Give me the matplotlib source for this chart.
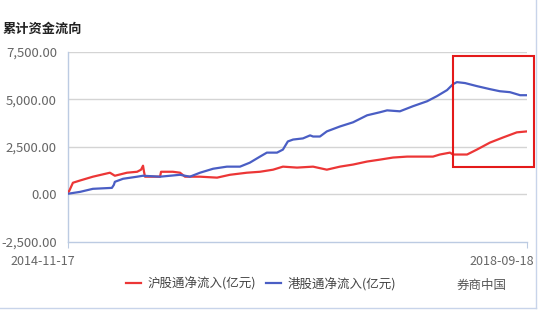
import matplotlib
matplotlib.use("Agg")
import matplotlib.pyplot as plt
import matplotlib.transforms as mtransforms
from matplotlib.lines import Line2D
from matplotlib.patches import Rectangle
import pandas as pd

plt.rcParams['font.family'] = ['Noto Sans CJK SC', 'DejaVu Sans']

start_date = "2014-11-17"
end_date = "2018-09-18"
title = "累计资金流向"
sh_label = "沪股通净流入(亿元)"
hk_label = "港股通净流入(亿元)"
yticks = [-2500, 0, 2500, 5000, 7500]

# days since start, cumulative net inflow (亿元)
sh_days = [0, 3, 15, 37, 76, 128, 143, 180, 211, 223, 229, 232, 235, 281, 284, 320, 342,
           357, 363, 403, 455, 494, 546, 586, 626, 656, 699, 748, 790, 830, 870, 913, 952,
           992, 1035, 1074, 1114, 1135, 1166, 1175, 1218, 1248, 1288, 1328, 1370, 1401]
sh_vals = [120, 140, 600, 720, 920, 1130, 970, 1130, 1180, 1290, 1500, 1180, 920, 920, 1180, 1180, 1130,
           920, 920, 920, 870, 1020, 1130, 1180, 1290, 1450, 1400, 1450, 1290, 1450, 1560, 1720, 1820,
           1930, 1980, 1980, 1980, 2090, 2190, 2090, 2090, 2350, 2720, 2990, 3260, 3310]

hk_days = [0, 37, 76, 134, 140, 143, 168, 211, 229, 281, 342, 372, 403, 443, 485, 525, 555,
           586, 607, 638, 656, 671, 687, 717, 739, 748, 769, 790, 830, 870, 913, 952, 974,
           1013, 1053, 1096, 1126, 1157, 1175, 1187, 1212, 1248, 1288, 1318, 1349, 1380, 1401]
hk_vals = [20, 120, 280, 330, 490, 650, 810, 920, 970, 920, 1020, 920, 1130, 1340, 1450, 1450, 1660,
           1980, 2190, 2190, 2350, 2780, 2880, 2940, 3100, 3040, 3040, 3310, 3570, 3790, 4160, 4320, 4420,
           4370, 4640, 4900, 5170, 5490, 5800, 5910, 5860, 5700, 5540, 5430, 5380, 5220, 5220]

t0 = pd.Timestamp(start_date)
sh_dates = [t0 + pd.Timedelta(days=d) for d in sh_days]
hk_dates = [t0 + pd.Timedelta(days=d) for d in hk_days]

W, H = 543, 312
fig = plt.figure(figsize=(W / 100, H / 100), dpi=100)
ax = fig.add_axes([68 / W, 1 - 241.5 / H, (527 - 68) / W, (241.5 - 52) / H])

red = '#ec3636'
blue = '#4a5ec4'
ax.plot(sh_dates, sh_vals, color=red, lw=1.6, label=sh_label, zorder=3)
ax.plot(hk_dates, hk_vals, color=blue, lw=1.6, label=hk_label, zorder=3)

ax.set_xlim(t0, pd.Timestamp(end_date))
ax.set_ylim(-2500, 7500)
ax.set_yticks(yticks)
ax.set_yticklabels([f"{v:,.2f}" for v in yticks])
for v in yticks[1:]:
    ax.axhline(v, color='#d4d4d4', lw=1.0, zorder=1)

for s in ['top', 'right']:
    ax.spines[s].set_visible(False)
for s in ['left', 'bottom']:
    ax.spines[s].set_color('#bccbe2')
    ax.spines[s].set_linewidth(1.0)

ax.tick_params(axis='y', length=0, pad=8, labelsize=9.5, labelcolor='#666666')
ax.set_xticks([t0, pd.Timestamp(end_date)])
ax.set_xticklabels([start_date, end_date])
ax.tick_params(axis='x', length=4, color='#bccbe2', pad=6, labelsize=9, labelcolor='#666666')
offset = mtransforms.ScaledTranslation(7.5 / 100, 0, fig.dpi_scale_trans)
for lab in ax.get_xticklabels():
    lab.set_horizontalalignment('right')
    lab.set_transform(lab.get_transform() + offset)

fig.text(3 / W, 1 - 29 / H, title, fontsize=9.5, fontweight='bold', color='#222222',
         ha='left', va='center')

leg = fig.legend(loc='center', bbox_to_anchor=(261 / W, 1 - 284 / H), ncol=2, frameon=False,
                 fontsize=9, handlelength=1.2, handletextpad=0.5, columnspacing=0.8,
                 labelcolor='#444444')

fig.text(457 / W, 1 - 285 / H, "券商中国", fontsize=9, color='#555555', ha='left', va='center')

fig.patches.append(Rectangle((453 / W, 1 - 166.5 / H), (534 - 453) / W, (166.5 - 56) / H,
                             transform=fig.transFigure, fill=False, edgecolor='#e41a1a', lw=1.5))
fig.lines.append(Line2D([536 / W, 536 / W], [1 - 308 / H, 1], transform=fig.transFigure,
                        color='#c8d4ea', lw=1))
fig.lines.append(Line2D([0, 536 / W], [1 - 308 / H, 1 - 308 / H], transform=fig.transFigure,
                        color='#c8d4ea', lw=1))

fig.savefig("out.png", dpi=100)
